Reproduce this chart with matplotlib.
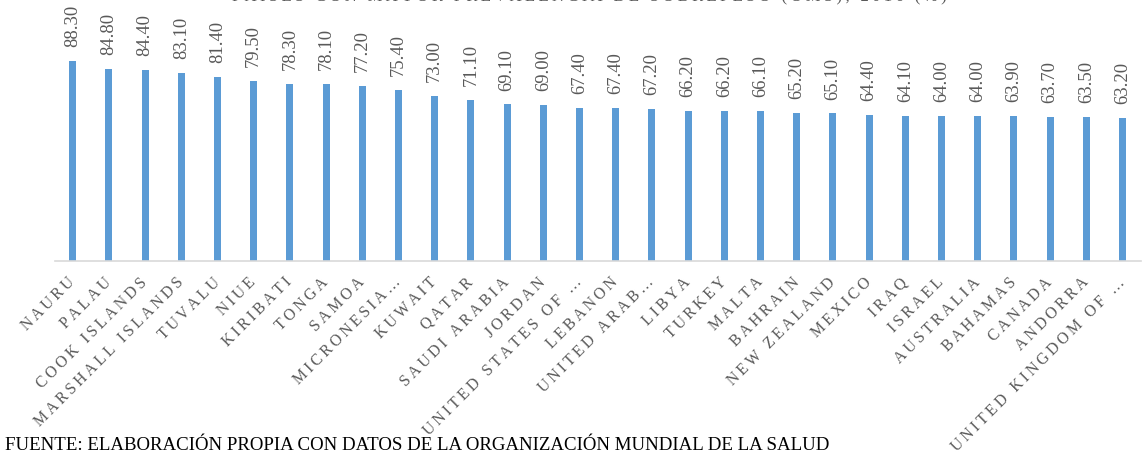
import matplotlib.pyplot as plt
import numpy as np

countries = [
    "NAURU", "PALAU", "COOK ISLANDS", "MARSHALL ISLANDS", "TUVALU", "NIUE",
    "KIRIBATI", "TONGA", "SAMOA", "MICRONESIA…", "KUWAIT", "QATAR",
    "SAUDI ARABIA", "JORDAN", "UNITED STATES OF …", "LEBANON", "UNITED ARAB…",
    "LIBYA", "TURKEY", "MALTA", "BAHRAIN", "NEW ZEALAND", "MEXICO", "IRAQ",
    "ISRAEL", "AUSTRALIA", "BAHAMAS", "CANADA", "ANDORRA", "UNITED KINGDOM OF …",
]
values = [
    88.3, 84.8, 84.4, 83.1, 81.4, 79.5, 78.3, 78.1, 77.2, 75.4,
    73.0, 71.1, 69.1, 69.0, 67.4, 67.4, 67.2, 66.2, 66.2, 66.1,
    65.2, 65.1, 64.4, 64.1, 64.0, 64.0, 63.9, 63.7, 63.5, 63.2,
]
title = "PAÍSES CON MAYOR PREVALENCIA DE SOBREPESO (OMS), 2016 (%)"
source = "FUENTE: ELABORACIÓN PROPIA CON DATOS DE LA ORGANIZACIÓN MUNDIAL DE LA SALUD"

serif = ["Liberation Serif", "DejaVu Serif"]
grey = "#595959"


def spaced(s, gap="\u2009"):
    # mimic Excel's expanded character spacing
    return gap.join(s)


fig = plt.figure(figsize=(11.44, 4.53), dpi=100)
ax = fig.add_axes([0.0477, 0.4245, 0.9493, 0.4993])

x = np.arange(len(countries))
ax.bar(x, values, width=0.19, color="#5B9BD5")

for xi, v in zip(x, values):
    ax.annotate(f"{v:.2f}", (xi, v), xytext=(0, 10), textcoords="offset points",
                rotation=90, ha="center", va="bottom", color=grey,
                fontsize=13.4, family=serif)

ax.set_xlim(-0.5, len(countries) - 0.5)
ax.set_ylim(0, 100)
ax.set_yticks([])
ax.set_xticks(x)
ax.set_xticklabels([spaced(c) for c in countries], rotation=45, ha="right",
                   va="center", rotation_mode="anchor", color=grey,
                   fontsize=11.3, family=serif)
ax.tick_params(axis="x", length=0, pad=14)
for side in ["left", "right", "top"]:
    ax.spines[side].set_visible(False)
ax.spines["bottom"].set_color("#D9D9D9")
ax.spines["bottom"].set_linewidth(1.2)

fig.text(0.515, 0.998, spaced(title), ha="center", va="baseline",
         color=grey, fontsize=12, family=serif)
fig.text(0.004, 0.0066, source, ha="left", va="baseline", color="black",
         fontsize=13.6, family=serif)

fig.savefig("out.png", dpi=100)
